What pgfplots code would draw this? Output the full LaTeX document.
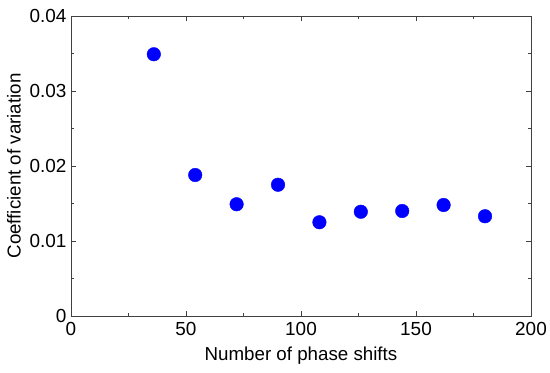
\documentclass[border=0pt]{standalone}
\usepackage{pgfplots}
\pgfplotsset{compat=1.18}
\usepackage{fontspec}
\setmainfont{Liberation Sans}
\begin{document}
\begin{tikzpicture}
\begin{axis}[
  scale only axis,
  width=460bp, height=300bp,
  xmin=0, xmax=200, ymin=0, ymax=0.04,
  scaled y ticks=false,
  xtick={0,50,100,150,200},
  minor xtick={25,75,125,175},
  ytick={0,0.01,0.02,0.03,0.04},
  yticklabels={0,0.01,0.02,0.03,0.04},
  minor ytick={0.005,0.015,0.025,0.035},
  tick align=inside,
  major tick length=5bp,
  minor tick length=3bp,
  axis line style={draw=black!75, line width=0.9pt},
  every tick/.style={black!75, line width=0.7pt},
  tick label style={font=\fontsize{19}{21}\selectfont},
  label style={font=\fontsize{18.8}{21}\selectfont},
  /pgf/number format/assume math mode=true,
  xticklabel style={yshift=-3bp},
  yticklabel style={xshift=-1bp},
  xlabel={Number of phase shifts},
  ylabel={Coefficient of variation},
  ylabel style={yshift=2bp},
  xlabel style={yshift=-4bp},
]
\addplot[only marks, mark=*, mark size=6.8bp, color={rgb,255:red,0;green,0;blue,255}] coordinates {
(36,0.0349) (54,0.0188) (72,0.0149) (90,0.0175) (108,0.0125)
(126,0.0139) (144,0.0140) (162,0.0148) (180,0.0133)
};
\end{axis}
\pgfresetboundingbox
\path (current axis.south west) ++(-71bp,-57bp) rectangle ([xshift=19bp,yshift=16bp]current axis.north east);
\end{tikzpicture}
\end{document}
